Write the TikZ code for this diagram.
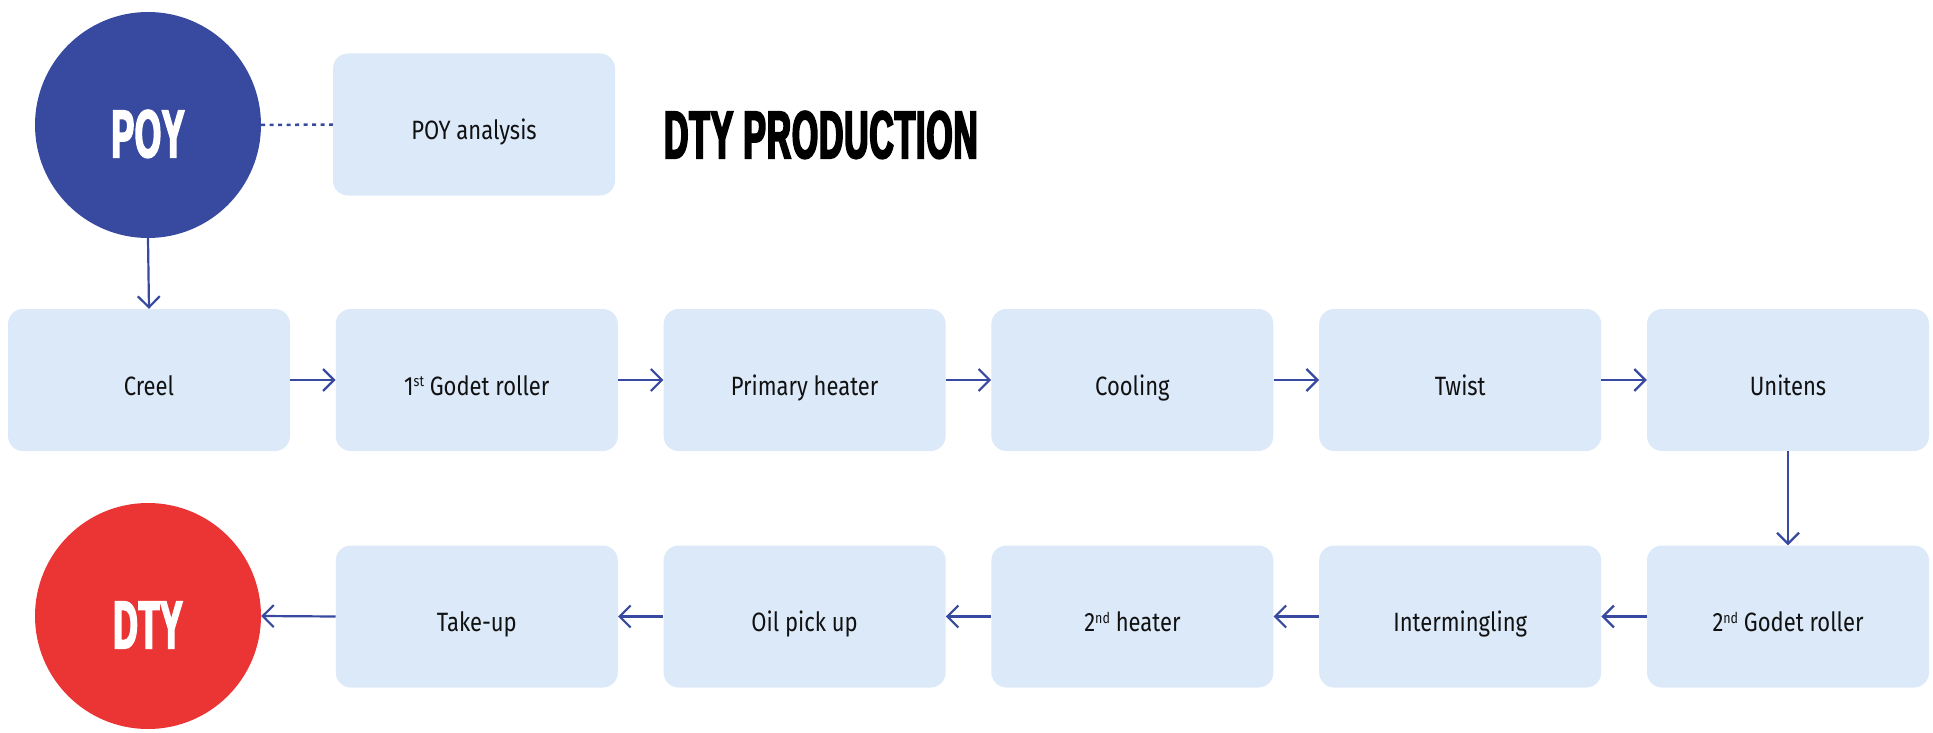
\documentclass[tikz,border=0pt]{standalone}
\usepackage{fontspec}
\setmainfont[FakeStretch=0.83]{Fira Sans}
\newfontfamily\titlefont[FakeStretch=0.5,LetterSpace=1.5,BoldFeatures={FakeBold=3}]{Liberation Sans}
\usetikzlibrary{arrows.meta}
\newcommand\mysup[1]{\raisebox{8.5pt}{\fontsize{15}{15}\selectfont #1}}
\definecolor{poyblue}{HTML}{374AA0}
\definecolor{dtyred}{HTML}{EB3535}
\definecolor{boxblue}{HTML}{DCE9F9}
\definecolor{textblack}{HTML}{111111}
\tikzset{
  stepbox/.style={rectangle, rounded corners=15pt, fill=boxblue, draw=none,
    minimum width=282pt, minimum height=142pt, inner sep=0pt,
    text height=30pt, text depth=0pt, text=textblack,
    font=\fontsize{26.5}{30}\selectfont},
  bigcircle/.style={circle, minimum size=226pt, inner sep=0pt, draw=none,
    text=white, text height=64pt, text depth=0pt,
    font=\titlefont\bfseries\fontsize{67}{70}\selectfont},
  flow/.style={draw=poyblue, line width=2.2pt,
    -{Straight Barb[length=11pt,width=22pt,line width=2.2pt]}},
  dotline/.style={draw=poyblue, line width=2.5pt, dash pattern=on 4pt off 4.5pt}
}
\begin{document}
\begin{tikzpicture}[x=1pt,y=-1pt]
\useasboundingbox (0,0) rectangle (1933,733);
% circles
\node[bigcircle, fill=poyblue] (poy) at (148,125) {POY};
\node[bigcircle, fill=dtyred] (dty) at (148,616) {DTY};
% analysis and title
\node[stepbox] (ana) at (474,124.5) {POY analysis};
\node[anchor=base west, inner sep=0pt, font=\titlefont\bfseries\fontsize{67}{70}\selectfont] (title) at (664,158) {DTY PRODUCTION};
% top row
\node[stepbox] (creel) at (149,380) {Creel};
\node[stepbox] (god1) at (476.8,380) {1\mysup{st} Godet roller};
\node[stepbox] (prim) at (804.6,380) {Primary heater};
\node[stepbox] (cool) at (1132.4,380) {Cooling};
\node[stepbox] (twist) at (1460.2,380) {Twist};
\node[stepbox] (unit) at (1788,380) {Unitens};
% bottom row
\node[stepbox] (take) at (476.8,616.5) {Take-up};
\node[stepbox] (oil) at (804.6,616.5) {Oil pick up};
\node[stepbox] (heat2) at (1132.4,616.5) {2\mysup{nd} heater};
\node[stepbox] (inter) at (1460.2,616.5) {Intermingling};
\node[stepbox] (god2) at (1788,616.5) {2\mysup{nd} Godet roller};
% connectors
\draw[dotline] (poy.east) -- (ana.west);
\draw[flow] (poy.south) -- (creel.north);
\draw[flow] (creel.east) -- (god1.west);
\draw[flow] (god1.east) -- (prim.west);
\draw[flow] (prim.east) -- (cool.west);
\draw[flow] (cool.east) -- (twist.west);
\draw[flow] (twist.east) -- (unit.west);
\draw[flow] (unit.south) -- (god2.north);
\draw[flow] (god2.west) -- (inter.east);
\draw[flow] (inter.west) -- (heat2.east);
\draw[flow] (heat2.west) -- (oil.east);
\draw[flow] (oil.west) -- (take.east);
\draw[flow] (take.west) -- (dty.east);
\end{tikzpicture}
\end{document}
